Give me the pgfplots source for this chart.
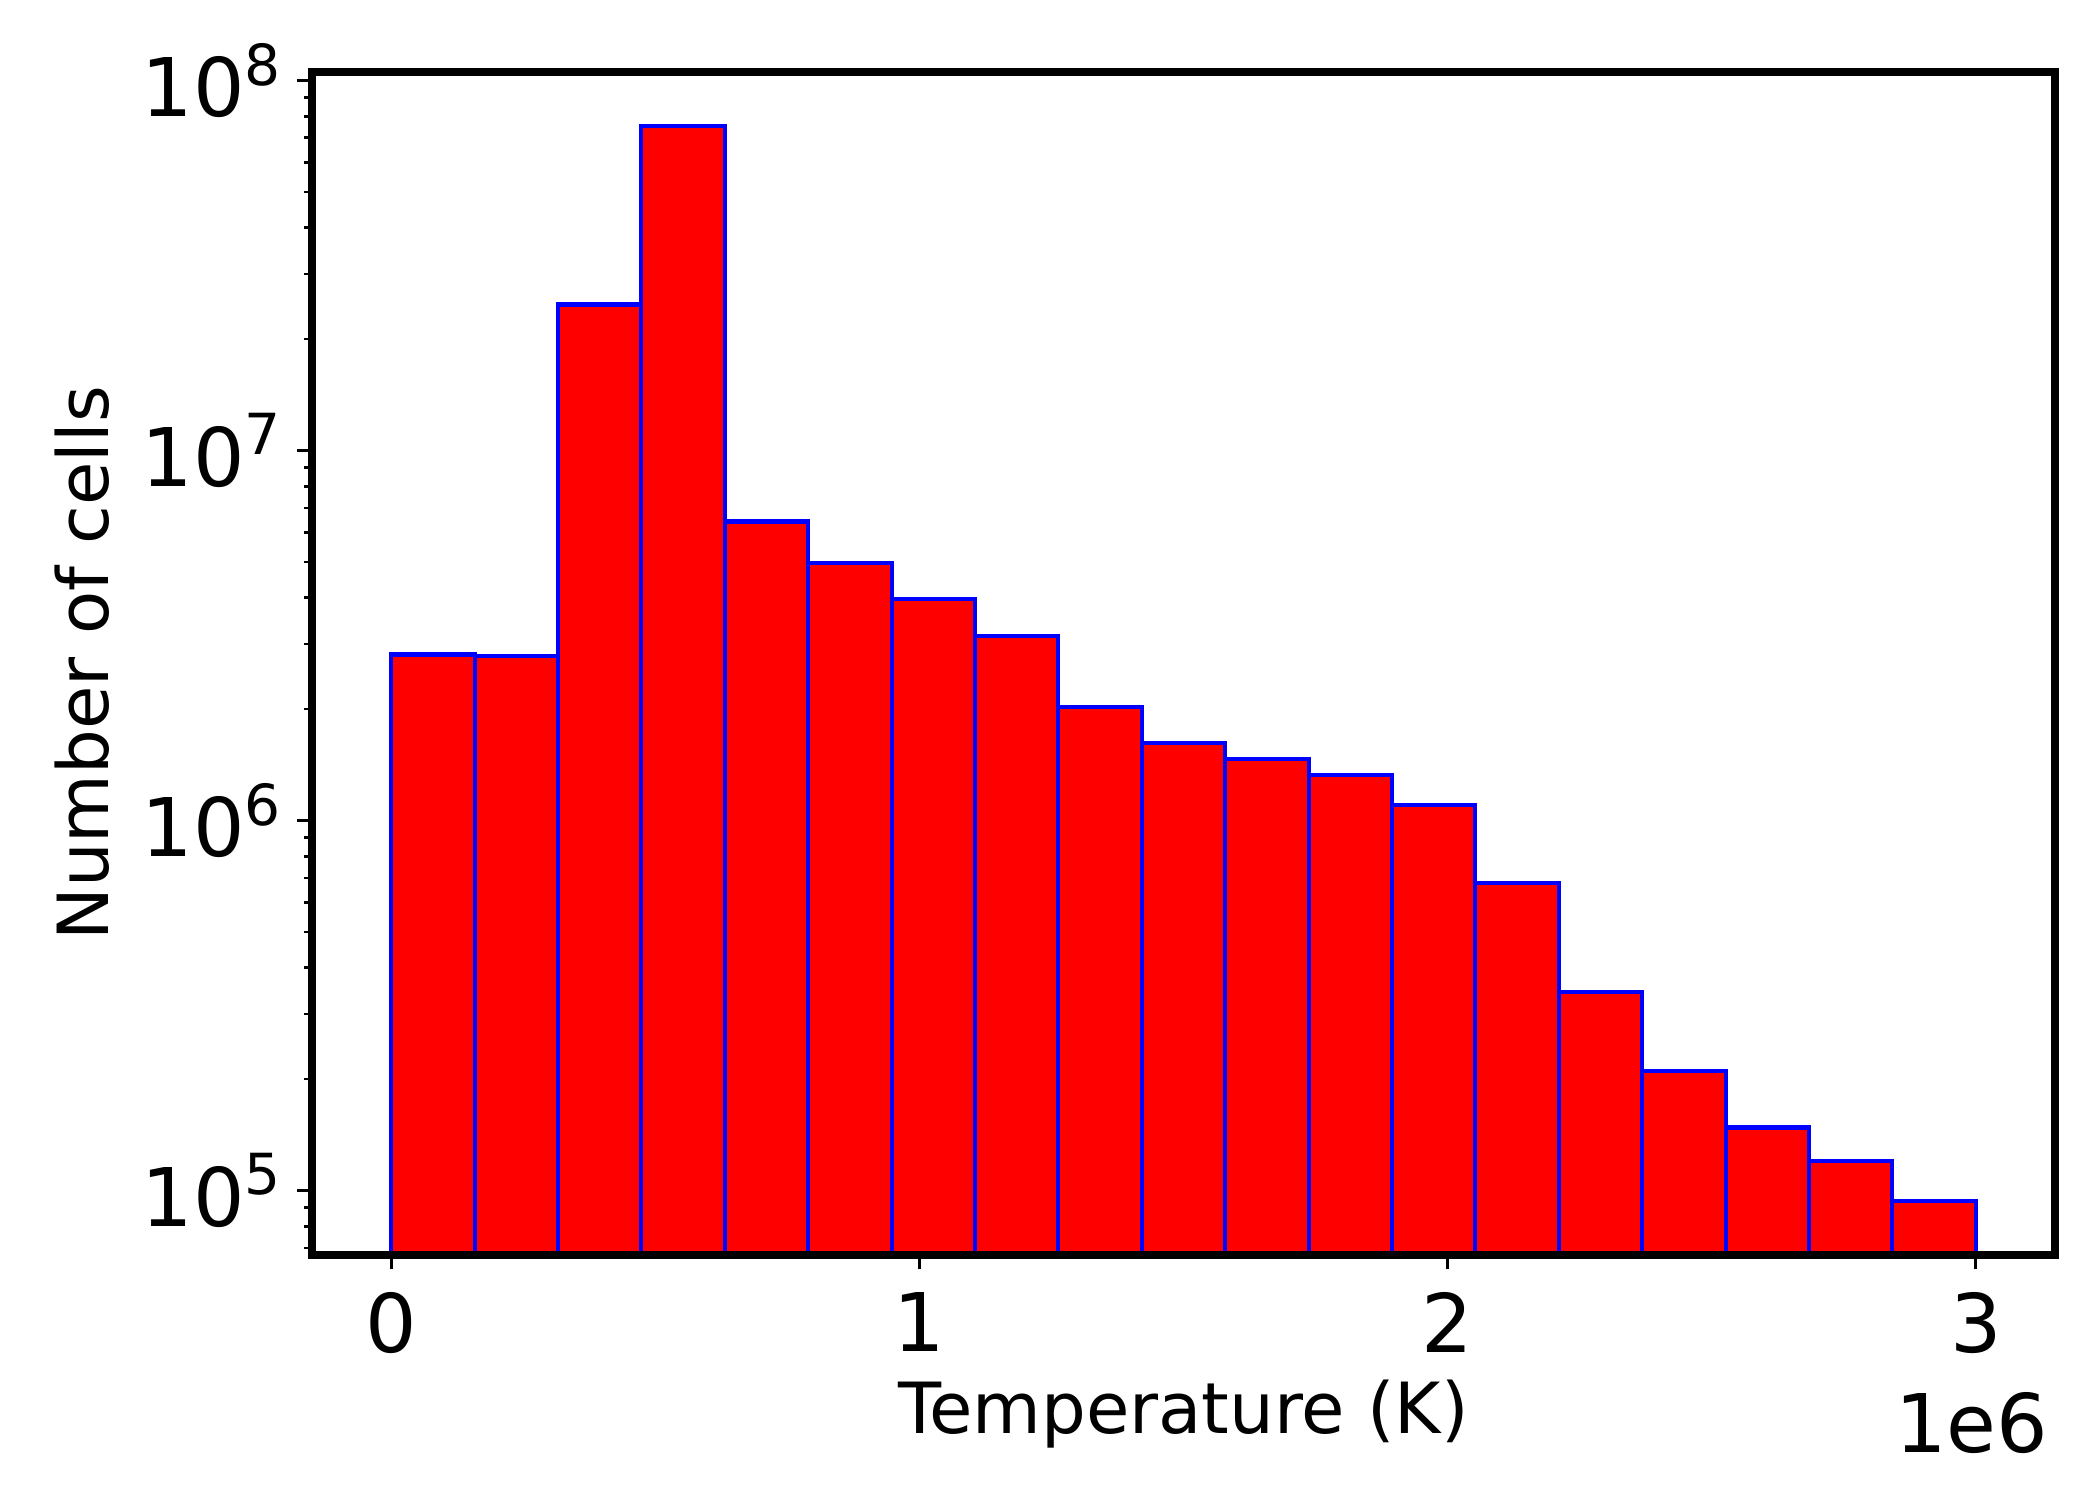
\documentclass[border=0pt]{standalone}
\usepackage{fontspec}
\setmainfont{DejaVu Sans}
\usepackage{pgfplots}
\pgfplotsset{compat=1.18}

\begin{document}
\begin{tikzpicture}
\begin{axis}[
  scale only axis,
  width=5.81in, height=3.943in,
  xmin=-0.15, xmax=3.15,
  ymode=log,
  ymin=6.7e4, ymax=1.054e8,
  axis on top,
  axis line style={line width=2pt},
  tick pos=left,
  tick align=outside,
  major tick length=3.5pt,
  minor tick length=2pt,
  every tick/.style={black, line width=0.8pt},
  minor tick style={line width=0.6pt},
  xtick={0,1,2,3},
  xticklabels={0,1,2,3},
  yticklabel={\pgfmathparse{int(round(\tick/ln(10)))}10\textsuperscript{\pgfmathresult}},
  tick label style={font=\fontsize{19.5}{22}\selectfont},
  xticklabel style={yshift=-2pt},
  xlabel={Temperature (K)},
  ylabel={Number of cells},
  label style={font=\fontsize{17}{20}\selectfont},
  xlabel style={at={(axis description cs:0.5,-0.105)}, anchor=north, inner sep=0pt},
  ylabel style={at={(axis description cs:-0.148,0.5)}, anchor=north, inner sep=0pt},
]
\addplot[ybar interval, fill=red, draw=blue, line width=1pt] coordinates {
  (0.00000, 2.81e6)
  (0.15789, 2.79e6)
  (0.31579, 2.48e7)
  (0.47368, 7.54e7)
  (0.63158, 6.43e6)
  (0.78947, 4.97e6)
  (0.94737, 3.96e6)
  (1.10526, 3.16e6)
  (1.26316, 2.03e6)
  (1.42105, 1.62e6)
  (1.57895, 1.47e6)
  (1.73684, 1.33e6)
  (1.89474, 1.10e6)
  (2.05263, 6.76e5)
  (2.21053, 3.44e5)
  (2.36842, 2.10e5)
  (2.52632, 1.48e5)
  (2.68421, 1.20e5)
  (2.84211, 9.36e4)
  (3.00000, 9.36e4)
};
\coordinate (bl) at (rel axis cs:0,0);
\coordinate (br) at (rel axis cs:1,0);
\end{axis}
\node[anchor=north east, inner sep=0pt, font=\fontsize{19.5}{22}\selectfont]
  at ([xshift=-0.02in, yshift=-0.455in]br) {1e6};
\pgfresetboundingbox
\path (bl) ++(-1.04in,-0.817in) rectangle ++(7in,5in);
\end{tikzpicture}
\end{document}
